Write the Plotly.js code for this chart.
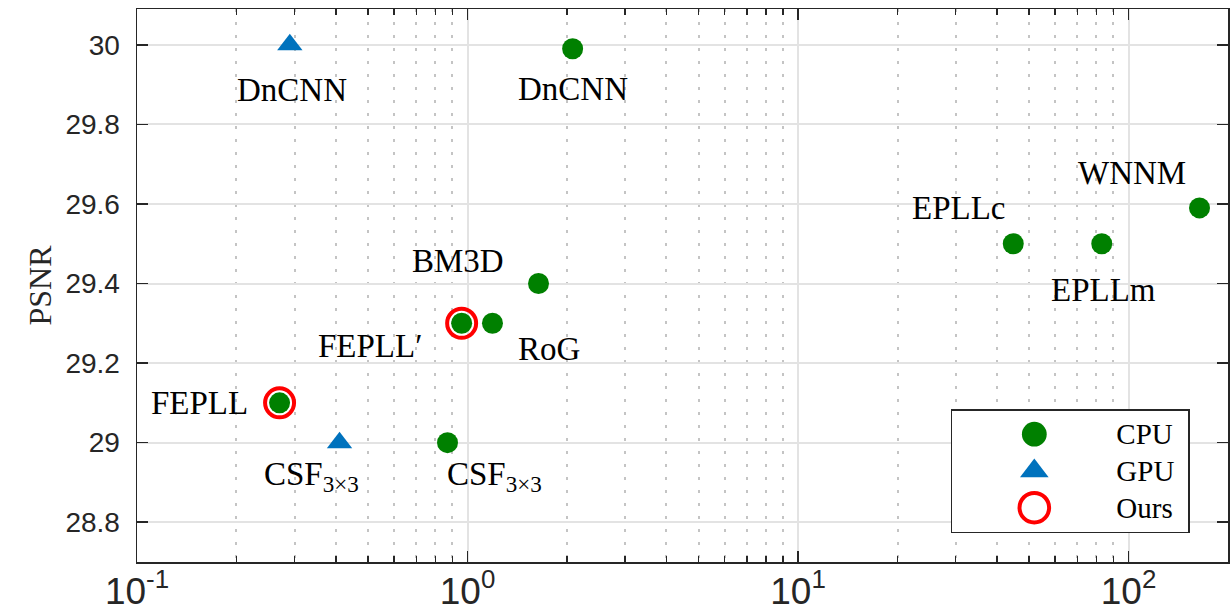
<!DOCTYPE html>
<html>
<head>
<meta charset="utf-8">
<script src="https://cdn.plot.ly/plotly-3.0.1.min.js"></script>
<style>html,body{margin:0;padding:0;background:#fff;}#chart{width:1230px;height:613px;}</style>
</head>
<body>
<div id="chart"></div>
<script>
// ---- data ----
const cpuMethods = ["DnCNN", "WNNM", "EPLLc", "EPLLm", "BM3D", "RoG", "FEPLL′", "FEPLL", "CSF<sub>3×3</sub>"];
const cpuTime    = [2.08, 164, 44.8, 83, 1.64, 1.19, 0.96, 0.27, 0.87];
const cpuPSNR    = [29.99, 29.59, 29.50, 29.50, 29.40, 29.30, 29.30, 29.10, 29.00];

const gpuMethods = ["DnCNN", "CSF<sub>3×3</sub>"];
const gpuTime    = [0.29, 0.41];
const gpuPSNR    = [30.00, 29.00];

const oursMethods = ["FEPLL′", "FEPLL"];
const oursTime    = [0.96, 0.27];
const oursPSNR    = [29.30, 29.10];

const legendNames = ["CPU", "GPU", "Ours"];
const yTicks = [28.8, 29, 29.2, 29.4, 29.6, 29.8, 30];
const xTickVals = [0.1, 1, 10, 100];
const xTickText = ["10<sup>-1</sup>", "10<sup>0</sup>", "10<sup>1</sup>", "10<sup>2</sup>"];

// label offsets in pixels (style)
const cpuLabelShift = [[0,-40],[-68,35],[-55,36],[2,-46],[-81,23],[57,-26],[-92,-23],[-80,0],[47,-34]];
const gpuLabelShift = [[2,-45],[-28,-34]];

const serif = "Liberation Serif, Times New Roman, serif";
const sans = "Liberation Sans, Arial, Helvetica, sans-serif";
const ink = "#262626";

const legendLabel = n => '<span style="font-size:29px">' + n + '<span style="font-size:32px">&nbsp;</span></span>';

const traces = [
  {x: cpuTime, y: cpuPSNR, name: legendLabel(legendNames[0]), type: "scatter", mode: "markers",
   marker: {symbol: "circle", size: 21, color: "#008000"}},
  {x: gpuTime, y: gpuPSNR, name: legendLabel(legendNames[1]), type: "scatter", mode: "markers",
   marker: {symbol: "triangle-up", size: 22, color: "#0072BD"}},
  {x: oursTime, y: oursPSNR, name: legendLabel(legendNames[2]), type: "scatter", mode: "markers",
   marker: {symbol: "circle-open", size: 29, color: "#FF0000", line: {width: 4, color: "#FF0000"}}}
];

const annotations = [];
cpuMethods.forEach((m, i) => annotations.push({
  x: Math.log10(cpuTime[i]), y: cpuPSNR[i], xref: "x", yref: "y", text: m, showarrow: false,
  xshift: cpuLabelShift[i][0], yshift: cpuLabelShift[i][1],
  font: {family: serif, size: 33, color: "#000"}
}));
gpuMethods.forEach((m, i) => annotations.push({
  x: Math.log10(gpuTime[i]), y: gpuPSNR[i], xref: "x", yref: "y", text: m, showarrow: false,
  xshift: gpuLabelShift[i][0], yshift: gpuLabelShift[i][1],
  font: {family: serif, size: 33, color: "#000"}
}));

const layout = {
  width: 1230, height: 613,
  margin: {l: 137, r: 2, t: 9, b: 51},
  paper_bgcolor: "#fff", plot_bgcolor: "#fff",
  showlegend: true,
  legend: {
    x: 0.965, xanchor: "right", y: 0.052, yanchor: "bottom",
    bgcolor: "#fff", bordercolor: ink, borderwidth: 1.5,
    font: {family: serif, size: 26, color: "#000"},
    itemwidth: 154
  },
  xaxis: {
    type: "log", range: [-1, Math.log10(200)],
    tickmode: "array", tickvals: xTickVals, ticktext: xTickText,
    showline: true, linecolor: ink, linewidth: 1.5, mirror: "ticks",
    ticks: "inside", ticklen: 11, tickwidth: 1.5, tickcolor: ink,
    showgrid: true, gridcolor: "#E3E3E3", gridwidth: 2,
    zeroline: false,
    tickfont: {family: sans, size: 37, color: ink},
    ticklabelstandoff: -4,
    minor: {dtick: "D1", ticks: "inside", ticklen: 6, tickwidth: 1.5, tickcolor: ink,
            showgrid: true, gridcolor: "#C4C4C4", gridwidth: 2, griddash: "3px,10px"}
  },
  yaxis: {
    range: [28.7, 30.09], tickvals: yTicks,
    showline: true, linecolor: ink, linewidth: 1.5, mirror: "ticks",
    ticks: "inside", ticklen: 11, tickwidth: 1.5, tickcolor: ink,
    showgrid: true, gridcolor: "#E3E3E3", gridwidth: 2,
    zeroline: false,
    tickfont: {family: sans, size: 28, color: ink},
    ticklabelstandoff: 10,
    title: {text: "PSNR", font: {family: serif, size: 32, color: ink}, standoff: 4}
  },
  annotations: annotations
};

Plotly.newPlot("chart", traces, layout, {displayModeBar: false, staticPlot: true}).then(gd => {
  // enlarge the legend glyphs to match the plotted marker sizes
  const scales = [1.55, 1.55, 1.85];
  gd.querySelectorAll(".legend .traces").forEach((tr, i) => {
    tr.querySelectorAll("path.scatterpts").forEach(p => {
      const t = p.getAttribute("transform") || "";
      p.setAttribute("transform", t + " scale(" + scales[i] + ")");
      if (i === 2) p.style.strokeWidth = (4 / scales[i]).toFixed(2) + "px";
    });
  });
});
</script>
</body>
</html>
